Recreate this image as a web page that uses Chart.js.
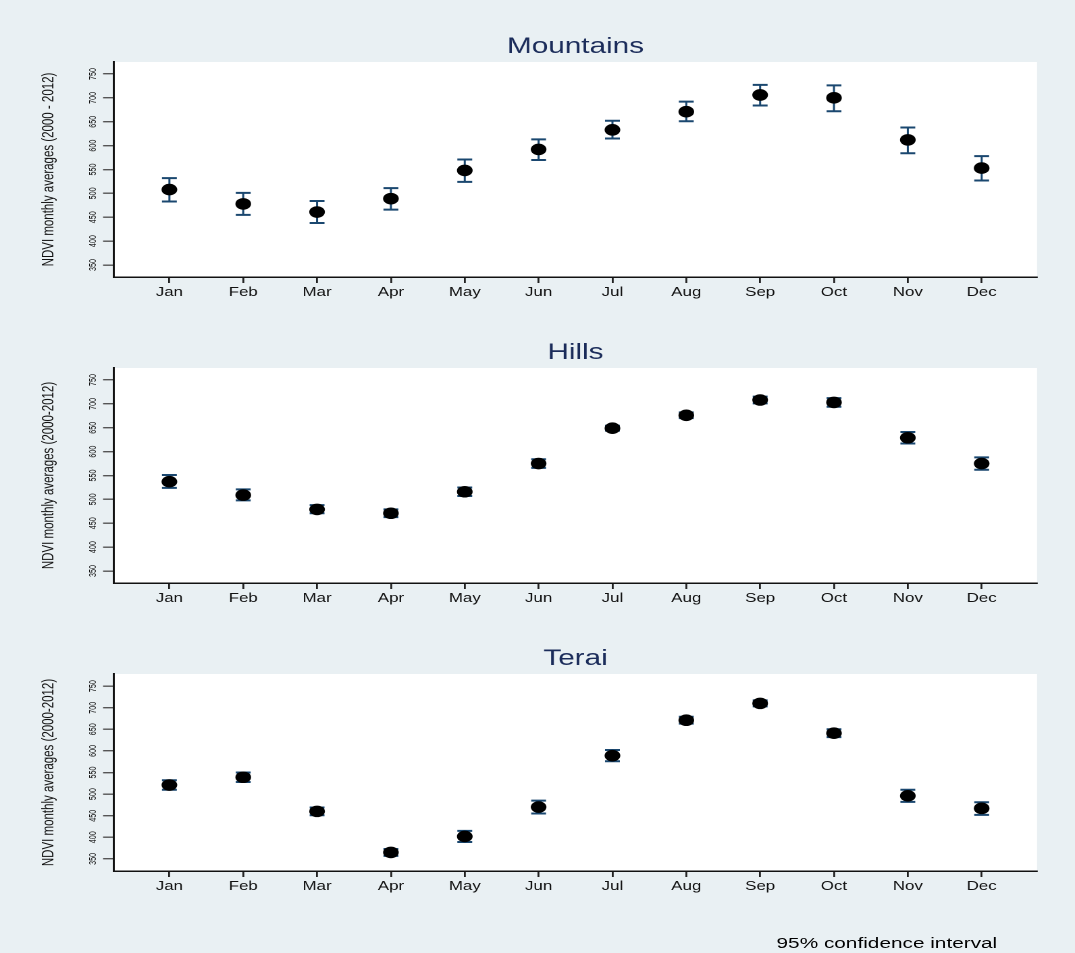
<!DOCTYPE html>
<html>
<head>
<meta charset="utf-8">
<title>NDVI monthly averages</title>
<script src="https://cdn.jsdelivr.net/npm/chart.js@4.4.1/dist/chart.umd.min.js"></script>
<style>
  html, body { margin: 0; padding: 0; background: #e9f0f3; }
  body { width: 1075px; height: 953px; overflow: hidden; position: relative; }
  /* the figure is laid out narrow and widened horizontally as a whole */
  #figure { position: absolute; left: 0; top: 0; width: 796px; height: 953px;
            transform: scaleX(1.3505); transform-origin: 0 0; }
  #figure canvas { position: absolute; left: 0; }
  #note { position: absolute; left: 575px; top: 934px; line-height: 15px;
          font: 15.4px 'Liberation Sans', Arial, Helvetica, sans-serif; color: #000; white-space: nowrap; }
</style>
</head>
<body>
<div id="figure">
  <canvas id="mountains" width="796" height="306" style="top:0px;width:796px;height:306px"></canvas>
  <canvas id="hills" width="796" height="306" style="top:306px;width:796px;height:306px"></canvas>
  <canvas id="terai" width="796" height="341" style="top:612px;width:796px;height:341px"></canvas>
  <div id="note">95% confidence interval</div>
</div>
<script>
// Month categories along the x axis
const months = ['Jan', 'Feb', 'Mar', 'Apr', 'May', 'Jun', 'Jul', 'Aug', 'Sep', 'Oct', 'Nov', 'Dec'];

// Tick values on the NDVI axis
const ndviTicks = [350, 400, 450, 500, 550, 600, 650, 700, 750];

// Mountains: monthly mean NDVI and 95% confidence limits
const mountainsMean = [508, 478, 461, 489, 548, 592, 633, 671, 706, 700, 612, 553];
const mountainsLow  = [483, 455, 438, 466, 524, 570, 615, 651, 684, 672, 584, 527];
const mountainsHigh = [532, 501, 484, 511, 571, 613, 652, 692, 727, 726, 638, 578];

// Hills
const hillsMean = [537, 509, 479, 471, 516, 575, 649, 676, 708, 703, 629, 575];
const hillsLow  = [524, 498, 471, 463, 507, 566, 644, 670, 701, 694, 617, 562];
const hillsHigh = [551, 521, 488, 479, 525, 584, 654, 682, 715, 712, 641, 588];

// Terai
const teraiMean = [521, 539, 460, 365, 402, 470, 589, 671, 710, 641, 496, 467];
const teraiLow  = [510, 528, 451, 357, 389, 455, 576, 663, 703, 632, 482, 452];
const teraiHigh = [532, 550, 469, 373, 415, 485, 602, 679, 717, 650, 510, 481];

const FONT = "'Liberation Sans', Arial, Helvetica, sans-serif";
const NAVY = '#1a476f';

// White plot region, capped CI spikes and rotated NDVI tick labels
const stataPanel = {
  id: 'stataPanel',
  beforeDraw(chart) {
    const { ctx, chartArea: a } = chart;
    ctx.save();
    ctx.fillStyle = '#ffffff';
    ctx.fillRect(a.left, a.top, a.right - a.left, a.bottom - a.top);
    ctx.restore();
  },
  beforeDatasetsDraw(chart) {
    const { ctx, scales: { x, y } } = chart;
    ctx.save();
    ctx.strokeStyle = NAVY;
    chart.data.datasets.forEach(ds => {
      ds.data.forEach((p, i) => {
        const px = x.getPixelForValue(p.x);
        const yHi = y.getPixelForValue(ds.ciHigh[i]);
        const yLo = y.getPixelForValue(ds.ciLow[i]);
        const half = 5.5;
        ctx.lineWidth = 1.5;
        ctx.beginPath();
        ctx.moveTo(px, yHi);
        ctx.lineTo(px, yLo);
        ctx.stroke();
        ctx.lineWidth = 2;
        ctx.beginPath();
        ctx.moveTo(px - half, yHi);
        ctx.lineTo(px + half, yHi);
        ctx.moveTo(px - half, yLo);
        ctx.lineTo(px + half, yLo);
        ctx.stroke();
      });
    });
    ctx.restore();
  },
  afterDraw(chart) {
    const { ctx } = chart;
    const y = chart.scales.y;
    ctx.save();
    ctx.fillStyle = '#111';
    ctx.font = '7.2px ' + FONT;
    ctx.textAlign = 'center';
    ctx.textBaseline = 'middle';
    y.ticks.forEach(t => {
      const py = y.getPixelForValue(t.value);
      ctx.save();
      ctx.translate(69.1, py);
      ctx.rotate(-Math.PI / 2);
      ctx.fillText(String(t.value), 0, 0);
      ctx.restore();
    });
    ctx.restore();
  }
};

function makePanel(canvasId, title, yTitle, mean, low, high, yMin, yMax) {
  const ctx = document.getElementById(canvasId);
  return new Chart(ctx, {
    type: 'scatter',
    data: {
      datasets: [{
        label: title,
        data: months.map((m, i) => ({ x: i + 1, y: mean[i] })),
        ciLow: low,
        ciHigh: high,
        pointStyle: 'circle',
        pointRadius: 5.8,
        pointHoverRadius: 5.8,
        pointBackgroundColor: '#000',
        pointBorderColor: '#000',
        pointBorderWidth: 0,
        showLine: false
      }]
    },
    options: {
      responsive: false,
      animation: false,
      devicePixelRatio: 2,
      events: [],
      layout: { padding: { left: 0, right: 28.1, top: 0, bottom: canvasId === 'terai' ? 53 : 0 } },
      plugins: {
        legend: { display: false },
        tooltip: { enabled: false },
        title: {
          display: true,
          fullSize: false,
          text: title,
          color: '#1b2c5a',
          font: { family: FONT, size: 22, weight: 'normal' },
          padding: { top: 33.8, bottom: 1.8 }
        }
      },
      scales: {
        x: {
          type: 'linear',
          min: 0.25,
          max: 12.75,
          afterBuildTicks: s => { s.ticks = months.map((m, i) => ({ value: i + 1 })); },
          afterFit: s => { s.height = 29; },
          ticks: {
            autoSkip: false,
            maxRotation: 0,
            minRotation: 0,
            padding: 2,
            color: '#111',
            font: { family: FONT, size: 12.5 },
            callback: v => months[v - 1]
          },
          grid: { display: true, drawOnChartArea: false, drawTicks: true, tickLength: 6, color: '#222', lineWidth: 1.4 },
          border: { display: true, color: '#111', width: 1.5 }
        },
        y: {
          type: 'linear',
          min: yMin,
          max: yMax,
          afterBuildTicks: s => { s.ticks = ndviTicks.map(v => ({ value: v })); },
          afterFit: s => { s.width = 84.41; },
          ticks: { display: false },
          grid: { display: true, drawOnChartArea: false, drawTicks: true, tickLength: 8.1, color: '#555', lineWidth: 1.4 },
          border: { display: true, color: '#111', width: 1.5 },
          title: {
            display: true,
            text: yTitle,
            color: '#111',
            font: { family: FONT, size: 11.5 },
            padding: { top: 29.4, bottom: 0 }
          }
        }
      }
    },
    plugins: [stataPanel]
  });
}

makePanel('mountains', 'Mountains', 'NDVI monthly averages (2000 - 2012)', mountainsMean, mountainsLow, mountainsHigh, 325, 775);
makePanel('hills', 'Hills', 'NDVI monthly averages (2000-2012)', hillsMean, hillsLow, hillsHigh, 325, 775);
makePanel('terai', 'Terai', 'NDVI monthly averages (2000-2012)', teraiMean, teraiLow, teraiHigh, 322, 778);
</script>
</body>
</html>
